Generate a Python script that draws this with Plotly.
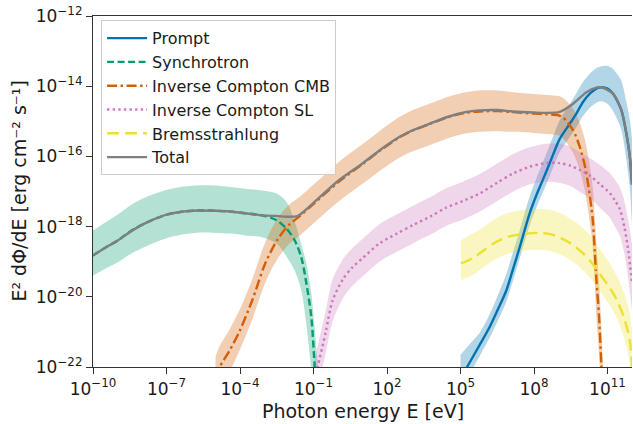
import plotly.graph_objects as go

# ---------------- data (log10 values) ----------------
# Prompt
prompt_logE = [5.0, 5.31, 5.8, 6.19, 6.5, 6.87, 7.15, 7.42, 7.82, 8.1, 8.45, 8.75, 9.05, 9.46, 9.73, 10.0, 10.3, 10.6, 10.75, 11.0, 11.22, 11.4, 11.57, 11.77, 11.91, 12.0]
prompt_logF = [-22.35, -21.95, -21.35, -20.86, -20.4, -19.82, -19.2, -18.58, -17.63, -17.1, -16.52, -16.0, -15.5, -15.07, -14.78, -14.45, -14.2, -14.05, -14.03, -14.07, -14.21, -14.42, -14.69, -15.35, -16.0, -16.8]
prompt_hi = [-21.65, -21.4, -21.0, -20.5, -20.0, -19.35, -18.72, -18.1, -17.15, -16.62, -16.02, -15.48, -14.97, -14.5, -14.2, -13.88, -13.63, -13.46, -13.43, -13.42, -13.5, -13.65, -13.85, -14.45, -14.95, -15.5]
prompt_lo = [-22.65, -22.27, -21.67, -21.17, -20.72, -20.14, -19.52, -18.9, -17.97, -17.45, -16.88, -16.37, -15.88, -15.45, -15.17, -14.85, -14.6, -14.45, -14.43, -14.5, -14.7, -14.95, -15.25, -16.1, -16.9, -18.0]

# Synchrotron
sync_logE = [-10, -9.5, -9, -8.4, -7.8, -7, -6.3, -5.6, -5, -4.4, -3.8, -3.1, -2.5, -2.1, -1.77, -1.5, -1.29, -1.09, -0.95, -0.85, -0.75]
sync_logF = [-18.82, -18.6, -18.4, -18.1, -17.88, -17.66, -17.57, -17.54, -17.55, -17.57, -17.62, -17.68, -17.82, -18.06, -18.39, -18.87, -19.62, -20.57, -22.0, -23.0, -24.0]
sync_hi = [-18.11, -17.88, -17.66, -17.36, -17.15, -16.96, -16.86, -16.82, -16.83, -16.87, -16.92, -16.97, -17.06, -17.3, -17.85, -18.5, -19.05, -19.9, -20.9, -21.7, -22.5]
sync_lo = [-19.4, -19.2, -19.02, -18.75, -18.55, -18.33, -18.22, -18.17, -18.18, -18.2, -18.25, -18.3, -18.48, -18.85, -19.25, -19.8, -20.8, -22.1, -23.5, -24.5, -25.5]

# Inverse Compton CMB
iccmb_logE = [-5.0, -4.83, -4.4, -4.0, -3.5, -3.0, -2.5, -2.0, -1.56, -1.04, 0.0, 1.0, 1.69, 2.5, 3.0, 3.73, 4.5, 5.2, 5.77, 6.5, 7.13, 8.0, 8.5, 9.0, 9.2, 9.6, 9.87, 10.07, 10.2, 10.34, 10.41, 10.48, 10.55, 10.65, 10.75, 10.85]
iccmb_logF = [-22.3, -22.0, -21.5, -20.95, -20.1, -19.1, -18.4, -17.95, -17.7, -17.38, -16.74, -16.22, -15.85, -15.46, -15.28, -15.08, -14.88, -14.76, -14.72, -14.71, -14.74, -14.78, -14.8, -14.83, -14.9, -15.26, -15.73, -16.25, -16.75, -17.45, -17.9, -18.7, -19.55, -20.5, -21.95, -23.5]
iccmb_hi = [-21.7, -21.4, -20.9, -20.35, -19.5, -18.5, -17.8, -17.38, -17.15, -16.83, -16.18, -15.65, -15.28, -14.88, -14.7, -14.5, -14.3, -14.17, -14.12, -14.12, -14.17, -14.22, -14.25, -14.28, -14.34, -14.65, -15.05, -15.5, -15.95, -16.55, -16.95, -17.7, -18.55, -19.5, -20.9, -22.5]
iccmb_lo = [-22.9, -22.6, -22.1, -21.5, -20.65, -19.65, -18.95, -18.5, -18.25, -17.93, -17.3, -16.78, -16.42, -16.04, -15.87, -15.68, -15.48, -15.35, -15.3, -15.28, -15.3, -15.33, -15.36, -15.4, -15.5, -15.9, -16.4, -16.95, -17.5, -18.2, -18.75, -19.65, -20.6, -21.6, -23.0, -24.5]

# Inverse Compton SL
icsl_logE = [-1.05, -0.83, -0.5, -0.22, 0.2, 0.6, 1.0, 1.69, 2.4, 3.05, 3.8, 4.41, 5.1, 5.77, 6.5, 7.13, 7.8, 8.49, 9.04, 9.5, 9.85, 10.3, 10.67, 11.1, 11.3, 11.5, 11.7, 11.85, 12.0]
icsl_logF = [-22.65, -22.0, -21.0, -20.1, -19.5, -19.15, -18.9, -18.48, -18.2, -17.96, -17.7, -17.46, -17.27, -17.06, -16.75, -16.49, -16.3, -16.19, -16.19, -16.27, -16.38, -16.56, -16.78, -17.05, -17.25, -17.5, -18.05, -18.7, -19.6]
icsl_hi = [-22.1, -21.4, -20.4, -19.5, -18.93, -18.6, -18.35, -17.93, -17.65, -17.41, -17.15, -16.91, -16.72, -16.51, -16.2, -15.94, -15.75, -15.64, -15.64, -15.72, -15.88, -16.06, -16.23, -16.48, -16.66, -16.88, -17.3, -17.85, -18.5]
icsl_lo = [-23.2, -22.6, -21.6, -20.7, -20.05, -19.68, -19.42, -19.0, -18.72, -18.48, -18.22, -17.98, -17.8, -17.58, -17.27, -17.01, -16.8, -16.72, -16.75, -16.85, -17.0, -17.2, -17.45, -17.75, -18.0, -18.25, -18.8, -19.5, -20.4]

# Bremsstrahlung
brems_logE = [5.02, 5.5, 6.0, 6.5, 7.0, 7.55, 8.2, 8.7, 9.1, 9.5, 9.9, 10.3, 10.6, 11.0, 11.3, 11.6, 11.8, 11.92, 12.0]
brems_logF = [-19.05, -18.9, -18.65, -18.42, -18.28, -18.21, -18.18, -18.22, -18.33, -18.48, -18.7, -18.98, -19.27, -19.65, -19.98, -20.45, -20.9, -21.3, -22.0]
brems_hi = [-18.39, -18.2, -17.98, -17.75, -17.6, -17.53, -17.5, -17.53, -17.63, -17.78, -17.98, -18.25, -18.55, -18.95, -19.3, -19.75, -20.15, -20.5, -21.0]
brems_lo = [-19.53, -19.38, -19.13, -18.9, -18.76, -18.69, -18.66, -18.7, -18.81, -18.96, -19.18, -19.46, -19.75, -20.15, -20.5, -21.0, -21.5, -22.0, -22.8]

# Total
total_logE = [-10, -9.5, -9, -8.37, -7.8, -7, -6.3, -5.6, -5.0, -4.42, -3.8, -3.06, -2.5, -2.0, -1.7, -1.56, -1.04, 0, 1.0, 1.69, 2.5, 3.0, 3.73, 4.5, 5.2, 5.77, 6.5, 7.13, 8.0, 8.5, 9.05, 9.6, 10.14, 10.55, 10.75, 11.22, 11.57, 11.77, 11.91, 12.0]
total_logF = [-18.82, -18.6, -18.4, -18.1, -17.88, -17.66, -17.57, -17.54, -17.55, -17.57, -17.62, -17.68, -17.7, -17.72, -17.71, -17.66, -17.35, -16.7, -16.2, -15.83, -15.45, -15.27, -15.07, -14.87, -14.74, -14.69, -14.68, -14.72, -14.75, -14.76, -14.73, -14.5, -14.17, -14.04, -14.03, -14.21, -14.69, -15.35, -16.0, -16.8]

x_tick_exps = [-10, -7, -4, -1, 2, 5, 8, 11]
y_tick_exps = [-22, -20, -18, -16, -14, -12]

series = [
    ("Prompt", prompt_logE, prompt_logF, prompt_hi, prompt_lo, "#0173b2", "solid", "1,115,178"),
    ("Synchrotron", sync_logE, sync_logF, sync_hi, sync_lo, "#029e73", "7px,3.5px", "2,158,115"),
    ("Inverse Compton CMB", iccmb_logE, iccmb_logF, iccmb_hi, iccmb_lo, "#d55e00", "10px,3.5px,2.5px,3.5px", "213,94,0"),
    ("Inverse Compton SL", icsl_logE, icsl_logF, icsl_hi, icsl_lo, "#cc78bc", "2.4px,3.2px", "204,120,188"),
    ("Bremsstrahlung", brems_logE, brems_logF, brems_hi, brems_lo, "#ece133", "12px,6px", "236,225,51"),
]


def p10(v):
    return [10 ** a for a in v]


fig = go.Figure()

# bands
for name, xe, yf, hi, lo, col, dash, rgb in series:
    fig.add_trace(go.Scatter(x=p10(xe), y=p10(hi), mode="lines", line=dict(width=0, shape="spline", smoothing=0.8),
                             showlegend=False, hoverinfo="skip"))
    fig.add_trace(go.Scatter(x=p10(xe), y=p10(lo), mode="lines", line=dict(width=0, shape="spline", smoothing=0.8),
                             fill="tonexty", fillcolor=f"rgba({rgb},0.3)", showlegend=False, hoverinfo="skip"))

# lines
for name, xe, yf, hi, lo, col, dash, rgb in series:
    fig.add_trace(go.Scatter(x=p10(xe), y=p10(yf), mode="lines", name=name,
                             line=dict(color=col, width=2.4, dash=dash, shape="spline", smoothing=0.8)))

fig.add_trace(go.Scatter(x=p10(total_logE), y=p10(total_logF), mode="lines", name="Total",
                         line=dict(color="#7f7f7f", width=2.4, shape="spline", smoothing=0.8)))

axis_common = dict(showline=True, linecolor="#333333", linewidth=1.2, ticks="outside", ticklen=6,
                   tickwidth=1.2, tickcolor="#333333", showgrid=False, zeroline=False, automargin=False,
                   tickfont=dict(family="DejaVu Sans", size=17, color="#1a1a1a"))

fig.update_xaxes(type="log", range=[-10, 12.0], mirror=True,
                 tickvals=[10 ** e for e in x_tick_exps],
                 ticktext=[f"10<sup>{str(e).replace('-', '−')}</sup>" for e in x_tick_exps],
                 **axis_common)
fig.update_yaxes(type="log", range=[-22, -12],
                 tickvals=[10 ** e for e in y_tick_exps],
                 ticktext=[f"10<sup>{str(e).replace('-', '−')}</sup>" for e in y_tick_exps],
                 **axis_common)

title_font = dict(family="DejaVu Sans", size=19, color="#1a1a1a")
fig.update_layout(
    width=633, height=424,
    margin=dict(l=93, r=1, t=16, b=57),
    paper_bgcolor="white", plot_bgcolor="white",
    font=dict(family="DejaVu Sans", color="#1a1a1a"),
    legend=dict(x=0.015, y=0.988, xanchor="left", yanchor="top", traceorder="normal",
                bgcolor="rgba(255,255,255,0.85)", bordercolor="#cccccc", borderwidth=1,
                font=dict(family="DejaVu Sans", size=16, color="#1a1a1a"), itemwidth=40),
    annotations=[
        dict(text="Photon energy E [eV]", xref="paper", yref="paper", x=0.5, y=-0.1245,
             yanchor="middle", xanchor="center", showarrow=False, font=title_font),
        dict(text="E² dΦ/dE [erg cm⁻² s⁻¹]", xref="paper", yref="paper", x=-0.139, y=0.5,
             xanchor="center", yanchor="middle", textangle=-90, showarrow=False, font=title_font),
    ],
)

fig.write_html("out.html", config={"displayModeBar": False},
               post_script="document.body.style.margin='0';document.body.style.padding='0';"
                           "document.body.style.overflow='hidden';")
